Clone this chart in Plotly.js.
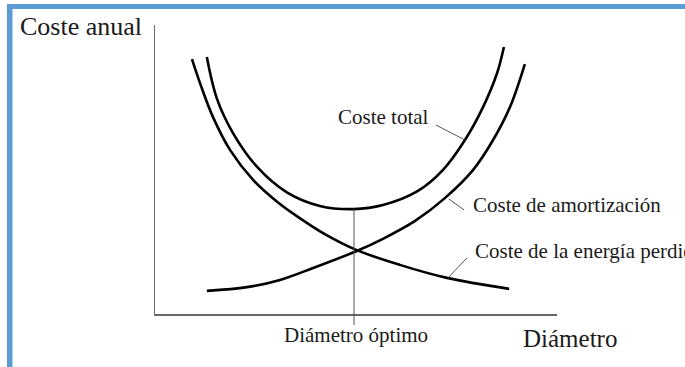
<!DOCTYPE html>
<html>
<head>
<meta charset="utf-8">
<script src="https://cdn.plot.ly/plotly-3.0.1.min.js"></script>
<style>
  html, body { margin: 0; padding: 0; background: #ffffff; }
  #chart { width: 685px; height: 367px; }
</style>
</head>
<body>
<div id="chart"></div>
<script>
// Values (arbitrary units, x: 0-100, y: 0-100)
var energiaX = [9.2, 11.2, 14.4, 18.7, 24.4, 30.6, 36.1, 41.8, 50.2, 60.9, 72.6, 88.1];
var energiaY = [88.2, 79.9, 68.2, 56.7, 46.4, 38.6, 33.1, 28.0, 22.1, 17.0, 12.5, 8.7];

var amortX = [12.9, 22.9, 31.1, 39.3, 50.2, 56.7, 64.7, 72.1, 79.1, 84.1, 88.3, 92.0];
var amortY = [8.0, 9.3, 11.8, 15.9, 21.8, 26.0, 32.2, 40.1, 49.8, 60.2, 71.6, 86.5];

var totalX = [12.9, 15.4, 19.4, 25.4, 32.8, 41.0, 49.5, 56.7, 65.2, 71.6, 77.1, 81.6, 85.1, 86.8];
var totalY = [88.9, 74.5, 62.6, 50.9, 42.1, 37.4, 36.3, 37.7, 42.4, 49.8, 60.2, 71.6, 83.4, 92.4];

var diametroOptimo = 49.5;

var etiquetas = {
  ejeY: 'Coste anual',
  ejeX: 'Diámetro',
  optimo: 'Diámetro óptimo',
  total: 'Coste total',
  amort: 'Coste de amortización',
  energia: 'Coste de la energía perdida'
};

var FONT = '"Liberation Serif", "Times New Roman", Times, serif';
var TXT = '#1a1a1a';
var minTotal = Math.min.apply(null, totalY);

function curve(x, y) {
  return {
    x: x, y: y, type: 'scatter', mode: 'lines',
    line: {color: '#000000', width: 2.6, shape: 'spline', smoothing: 1.0},
    hoverinfo: 'skip', showlegend: false
  };
}

var data = [curve(energiaX, energiaY), curve(amortX, amortY), curve(totalX, totalY)];

var blue = '#5b9bd5';
var layout = {
  width: 685, height: 367,
  margin: {l: 155, r: 128, t: 25, b: 53, pad: 0},
  paper_bgcolor: '#ffffff', plot_bgcolor: '#ffffff',
  showlegend: false,
  xaxis: {range: [0, 100], showline: true, linecolor: '#666666', linewidth: 1.5,
          showgrid: false, zeroline: false, showticklabels: false, ticks: '', fixedrange: true},
  yaxis: {range: [0, 100], showline: true, linecolor: '#666666', linewidth: 1.5,
          showgrid: false, zeroline: false, showticklabels: false, ticks: '', fixedrange: true},
  shapes: [
    // blue frame (top and left)
    {type: 'rect', xref: 'paper', yref: 'paper', x0: -0.3682, x1: 1.40, y0: 1.0554, y1: 1.0727,
     fillcolor: blue, line: {width: 0}, layer: 'below'},
    {type: 'rect', xref: 'paper', yref: 'paper', x0: -0.3682, x1: -0.3545, y0: -0.30, y1: 1.0727,
     fillcolor: blue, line: {width: 0}, layer: 'below'},
    // optimum vertical line
    {type: 'line', xref: 'x', yref: 'paper', x0: diametroOptimo, x1: diametroOptimo,
     y0: -0.038, y1: minTotal / 100, line: {color: '#555555', width: 1}},
    // leader lines
    {type: 'line', xref: 'x', yref: 'y', x0: 69.9, y0: 65.4, x1: 77.1, y1: 60.2,
     line: {color: '#555555', width: 1}},
    {type: 'line', xref: 'x', yref: 'y', x0: 73.1, y0: 39.8, x1: 76.9, y1: 36.0,
     line: {color: '#555555', width: 1}},
    {type: 'line', xref: 'x', yref: 'y', x0: 72.9, y0: 12.5, x1: 77.6, y1: 19.4,
     line: {color: '#555555', width: 1}}
  ],
  annotations: [
    {text: etiquetas.ejeY, xref: 'paper', yref: 'paper', x: -0.340, y: 0.9965,
     xanchor: 'left', yanchor: 'middle', showarrow: false,
     font: {family: FONT, size: 26, color: TXT}},
    {text: etiquetas.ejeX, xref: 'paper', yref: 'paper', x: 0.910, y: -0.085,
     xanchor: 'left', yanchor: 'middle', showarrow: false,
     font: {family: FONT, size: 25, color: TXT}},
    {text: etiquetas.optimo, xref: 'x', yref: 'paper', x: diametroOptimo + 0.5, y: -0.0727,
     xanchor: 'center', yanchor: 'middle', showarrow: false,
     font: {family: FONT, size: 21, color: TXT}},
    {text: etiquetas.total, xref: 'x', yref: 'y', x: 45.0, y: 68.2,
     xanchor: 'left', yanchor: 'middle', showarrow: false,
     font: {family: FONT, size: 21, color: TXT}},
    {text: etiquetas.amort, xref: 'x', yref: 'y', x: 78.6, y: 37.7,
     xanchor: 'left', yanchor: 'middle', showarrow: false,
     font: {family: FONT, size: 21, color: TXT}},
    {text: etiquetas.energia, xref: 'x', yref: 'y', x: 79.1, y: 21.8,
     xanchor: 'left', yanchor: 'middle', showarrow: false,
     font: {family: FONT, size: 21, color: TXT}}
  ]
};

Plotly.newPlot('chart', data, layout, {displayModeBar: false, staticPlot: true});
</script>
</body>
</html>
